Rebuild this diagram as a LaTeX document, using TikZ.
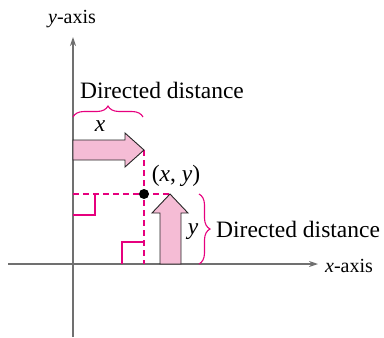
\documentclass[tikz,border=0pt]{standalone}
\usepackage{fontspec}
\setmainfont{Liberation Serif}
\usetikzlibrary{decorations.pathreplacing,arrows.meta}
\definecolor{mag}{HTML}{E6007E}
\definecolor{pinkfill}{HTML}{F5BCD5}
\definecolor{axisgray}{HTML}{707070}
\tikzset{
  axisline/.style={draw=axisgray,line width=1.1pt,-{Stealth[length=9pt,width=6pt]}},
  dashline/.style={draw=mag,line width=1.1pt,dash pattern=on 6pt off 4pt},
  rightangle/.style={draw=mag,line width=1.1pt},
  bigarrow/.style={fill=pinkfill,draw=black!85,line width=0.9pt,line join=miter},
  bracestyle/.style={draw=mag,line width=1.1pt,decorate,decoration={brace,amplitude=11pt}},
  lbl/.style={inner sep=0pt,font=\fontsize{23.5}{28}\selectfont},
  axlbl/.style={inner sep=0pt,font=\fontsize{20}{24}\selectfont}
}
\begin{document}
\begin{tikzpicture}[x=1pt,y=-1pt]
\useasboundingbox (0,0) rectangle (384,338);
% axes
\coordinate (xl) at (8,264);
\coordinate (xr) at (318,264);
\coordinate (yb) at (73,337);
\coordinate (yt) at (73,37);
\draw[axisline] (xl) -- (xr);
\draw[axisline] (yb) -- (yt);
\node[axlbl,anchor=west] (xlab) at (325,266) {\textit{x}-axis};
\node[axlbl] (ylab) at (72,19) {\textit{y}-axis};
% dashed lines
\coordinate (Py) at (73,194);
\coordinate (Px) at (144,264);
\coordinate (xtip) at (144,150);
\coordinate (ytip) at (170,194);
\draw[dashline] (Py) -- (ytip);
\draw[dashline] (xtip) -- (Px);
% point
\node[circle,fill=black,inner sep=0pt,minimum size=10pt] (P) at (144,194) {};
% right angle marks
\draw[rightangle] (73,215) -- (95,215) -- (95,194);
\draw[rightangle] (122,264) -- (122,242) -- (144,242);
% big arrows
\draw[bigarrow] (73,140) -- (125,140) -- (125,133) -- (xtip) -- (125,167) -- (125,160) -- (73,160) -- cycle;
\draw[bigarrow] (160,264) -- (160,213) -- (152,213) -- (ytip) -- (188,213) -- (181,213) -- (181,264) -- cycle;
% braces
\coordinate (b1a) at (73,117);
\coordinate (b1b) at (143,117);
\draw[bracestyle] (b1a) -- (b1b);
\coordinate (b2a) at (199,194);
\coordinate (b2b) at (199,264);
\draw[bracestyle] (b2a) -- (b2b);
% labels
\node[lbl] (dd1) at (162,90) {Directed distance};
\node[lbl] (xl2) at (100,126) {\textit{x}};
\node[lbl] (pl) at (176,176) {(\textit{x}, \textit{y})};
\node[lbl] (yl2) at (193,232) {\textit{y}};
\node[lbl,anchor=west] (dd2) at (216,229) {Directed distance};
\end{tikzpicture}
\end{document}
